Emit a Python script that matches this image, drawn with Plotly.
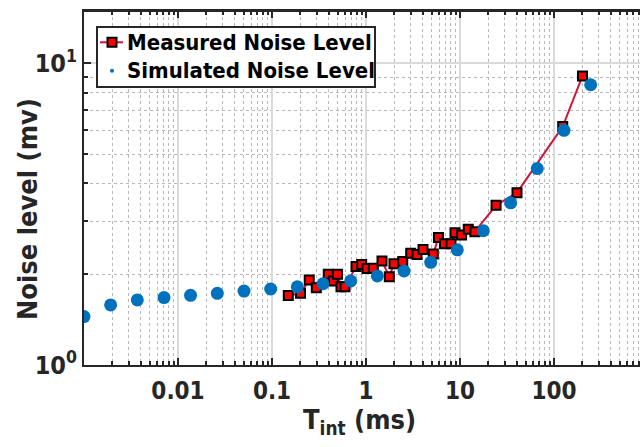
import plotly.graph_objects as go

# Simulated noise level (blue circles)
sim_t = [0.001, 0.00192, 0.00369, 0.0071, 0.0136, 0.0262, 0.0504, 0.0969, 0.186, 0.349,
         0.688, 1.32, 2.54, 4.88, 9.36, 17.7, 34.6, 66.4, 127.7, 245.6]
sim_noise = [1.447, 1.582, 1.644, 1.673, 1.703, 1.729, 1.759, 1.787, 1.817, 1.86,
             1.90, 1.975, 2.05, 2.19, 2.41, 2.79, 3.45, 4.48, 6.0, 8.5]

# Measured noise level (red squares)
meas_t = [0.149, 0.201, 0.249, 0.296, 0.397, 0.449, 0.497, 0.542, 0.598, 0.783,
          0.90, 1.025, 1.196, 1.48, 1.77, 1.985, 2.46, 2.99, 3.49, 4.04,
          5.2, 5.9, 6.84, 8.02, 8.85, 10.4, 12.25, 14.4, 24.2, 40.4, 123.8, 201]
meas_noise = [1.701, 1.729, 1.914, 1.805, 2.0, 1.90, 2.0, 1.818, 1.818, 2.122,
              2.154, 2.089, 2.093, 2.213, 1.963, 2.166, 2.205, 2.348, 2.326, 2.416,
              2.334, 2.648, 2.525, 2.525, 2.747, 2.699, 2.818, 2.768, 3.386, 3.728, 6.18, 9.09]

x_tickvals = [0.01, 0.1, 1, 10, 100]
x_ticktext = ["0.01", "0.1", "1", "10", "100"]
y_tickvals = [1, 10]
y_ticktext = ["10<sup>0</sup>", "10<sup>1</sup>"]
legend_names = ["Measured Noise Level", "Simulated Noise Level"]

AX = "#262626"
FONT = "DejaVu Sans Condensed, DejaVu Sans"
RED_LINE = "#D0153A"
BLUE = "#0072BD"

x_minor = [m * 10 ** e for e in range(-3, 3) for m in range(2, 10)]
y_minor = [m * 10 ** e for e in range(0, 2) for m in range(2, 10)]

# plot-area pixel geometry (for placing legend decorations in paper coords)
L, R, T, B = 84, 640, 11, 365
def px(xp):
    return (xp - L) / (R - L)
def py(yp):
    return (B - yp) / (B - T)

fig = go.Figure()

fig.add_trace(go.Scatter(
    x=meas_t, y=meas_noise, mode="lines+markers", name=legend_names[0],
    line=dict(color=RED_LINE, width=2),
    marker=dict(symbol="square", size=9, color="#FF0000", line=dict(color="black", width=2)),
    showlegend=False,
))
fig.add_trace(go.Scatter(
    x=sim_t, y=sim_noise, mode="markers", name=legend_names[1],
    marker=dict(symbol="circle", size=13, color=BLUE), showlegend=False,
))

fig.update_xaxes(
    type="log", range=[-3, 2.915],
    tickvals=x_tickvals, ticktext=x_ticktext,
    ticks="inside", ticklen=7, tickwidth=1.5, tickcolor=AX,
    showline=True, linecolor=AX, linewidth=2, mirror="ticks",
    showgrid=True, gridcolor="#dadada", gridwidth=1.5,
    tickfont=dict(family=FONT, size=24, color=AX, weight="bold"),
    ticklabelstandoff=3,
    minor=dict(tickvals=x_minor, ticks="inside", ticklen=4, tickcolor=AX,
               showgrid=True, gridcolor="#b8b8b8", griddash="dot", gridwidth=1),
    zeroline=False,
)
fig.update_yaxes(
    type="log", range=[0, 1.174],
    tickvals=y_tickvals, ticktext=y_ticktext,
    ticks="inside", ticklen=7, tickwidth=1.5, tickcolor=AX,
    showline=True, linecolor=AX, linewidth=2,
    showgrid=True, gridcolor="#dadada", gridwidth=1.5,
    tickfont=dict(family=FONT, size=25, color=AX, weight="bold"),
    minor=dict(tickvals=y_minor, ticks="inside", ticklen=4, tickcolor=AX,
               showgrid=True, gridcolor="#b8b8b8", griddash="dot", gridwidth=1),
    zeroline=False,
)

# top frame line
fig.add_shape(type="line", xref="paper", yref="paper", x0=0, x1=1, y0=1, y1=1,
              line=dict(color=AX, width=2))

# legend box (manual)
fig.add_shape(type="rect", xref="paper", yref="paper",
              x0=px(97), x1=px(375), y0=py(87), y1=py(27),
              fillcolor="white", line=dict(color=AX, width=2))
fig.add_shape(type="line", xref="paper", yref="paper",
              x0=px(100), x1=px(123), y0=py(42.3), y1=py(42.3),
              line=dict(color=RED_LINE, width=2))
fig.add_shape(type="rect", xref="paper", yref="paper",
              x0=px(107.5), x1=px(116.5), y0=py(46.8), y1=py(37.8),
              fillcolor="#FF0000", line=dict(color="black", width=2))
fig.add_shape(type="circle", xref="paper", yref="paper",
              x0=px(110), x1=px(114), y0=py(72.7), y1=py(68.7),
              fillcolor=BLUE, line=dict(color=BLUE, width=0))
for name, yc in zip(legend_names, [42.3, 70.7]):
    fig.add_annotation(text=name, xref="paper", yref="paper",
                       x=px(125), y=py(yc), xanchor="left", yanchor="middle",
                       showarrow=False,
                       font=dict(family=FONT, size=22, color="black", weight="bold"))

fig.add_annotation(text="Noise level (mv)", xref="paper", yref="paper",
                   x=px(27), y=py(209), xanchor="center", yanchor="middle",
                   textangle=-90, showarrow=False,
                   font=dict(family=FONT, size=27, color=AX, weight="bold"))
fig.add_annotation(text="T<sub>int</sub> (ms)", xref="paper", yref="paper",
                   x=px(359), y=py(421), xanchor="center", yanchor="middle",
                   showarrow=False,
                   font=dict(family=FONT, size=27, color=AX, weight="bold"))

fig.update_layout(
    width=640, height=447,
    margin=dict(l=L, r=640 - R, t=T, b=447 - B),
    paper_bgcolor="white", plot_bgcolor="white",
    showlegend=False,
)

fig.write_html("out.html")
